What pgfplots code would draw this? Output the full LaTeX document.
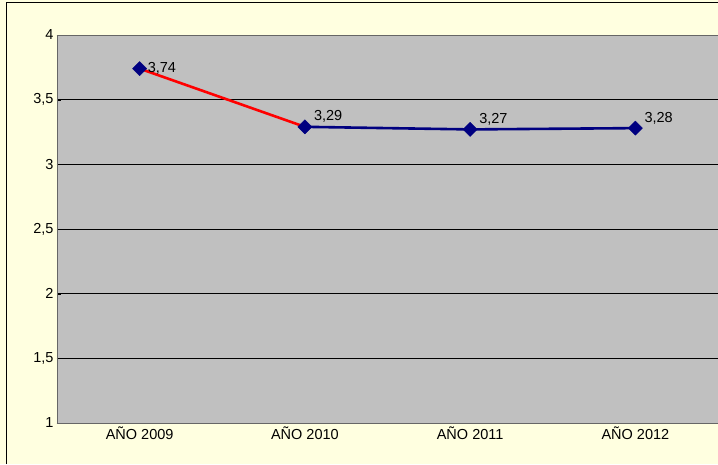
\documentclass[border=0pt]{standalone}
\usepackage{pgfplots}
\pgfplotsset{compat=1.18}
\usepackage{fontspec}
\setmainfont{Liberation Sans}
\definecolor{bgy}{RGB}{255,255,224}
\definecolor{plotg}{RGB}{192,192,192}
\definecolor{navy}{RGB}{0,0,128}
\begin{document}
\begin{tikzpicture}[x=1pt,y=1pt]
\useasboundingbox (0,0) rectangle (718,464);
\clip (0,0) rectangle (718,464);
\fill[bgy] (0,0) rectangle (718,464);
\draw[black,line width=0.8pt] (6,0) -- (6,462) -- (718,462);
\begin{axis}[at={(57pt,41pt)},anchor=south west,scale only axis,width=661pt,height=388pt,
  xmin=-0.5,xmax=3.5,ymin=1,ymax=4,
  axis background/.style={fill=plotg},
  axis line style={draw=black!60},
  tick pos=left,
  xtick={0,1,2,3},xticklabels={AÑO 2009,AÑO 2010,AÑO 2011,AÑO 2012},
  extra x ticks={0.5,1.5,2.5},extra x tick labels={},
  extra x tick style={major tick length=4pt,tick style={black}},
  major x tick style={draw=none},
  ytick={1,1.5,...,4},
  yticklabels={1,{1,5},2,{2,5},3,{3,5},4},
  ymajorgrids,grid style={black,line width=0.5pt},
  tick style={black},
  ticklabel style={font=\fontsize{14.5}{16}\selectfont},
  /pgf/number format/assume math mode=true,
  clip=false]
\addplot[red,line width=2.6pt] coordinates {(0,3.74) (1,3.29)};
\addplot[navy,line width=2.6pt] coordinates {(1,3.29) (2,3.27) (3,3.28)};
\addplot[navy,only marks,mark=square*,mark size=5pt,mark options={rotate=45},
  nodes near coords,point meta=explicit symbolic,
  every node near coord/.style={anchor=west,black,font=\fontsize{14.5}{16}\selectfont,xshift=7pt,yshift=0pt,inner sep=1pt}]
  coordinates {(0,3.74) [3,74]};
\addplot[navy,only marks,mark=square*,mark size=5pt,mark options={rotate=45},
  nodes near coords,point meta=explicit symbolic,
  every node near coord/.style={anchor=west,black,font=\fontsize{14.5}{16}\selectfont,xshift=8pt,yshift=10pt,inner sep=1pt}]
  coordinates {(1,3.29) [3,29] (2,3.27) [3,27] (3,3.28) [3,28]};
\end{axis}
\end{tikzpicture}
\end{document}
